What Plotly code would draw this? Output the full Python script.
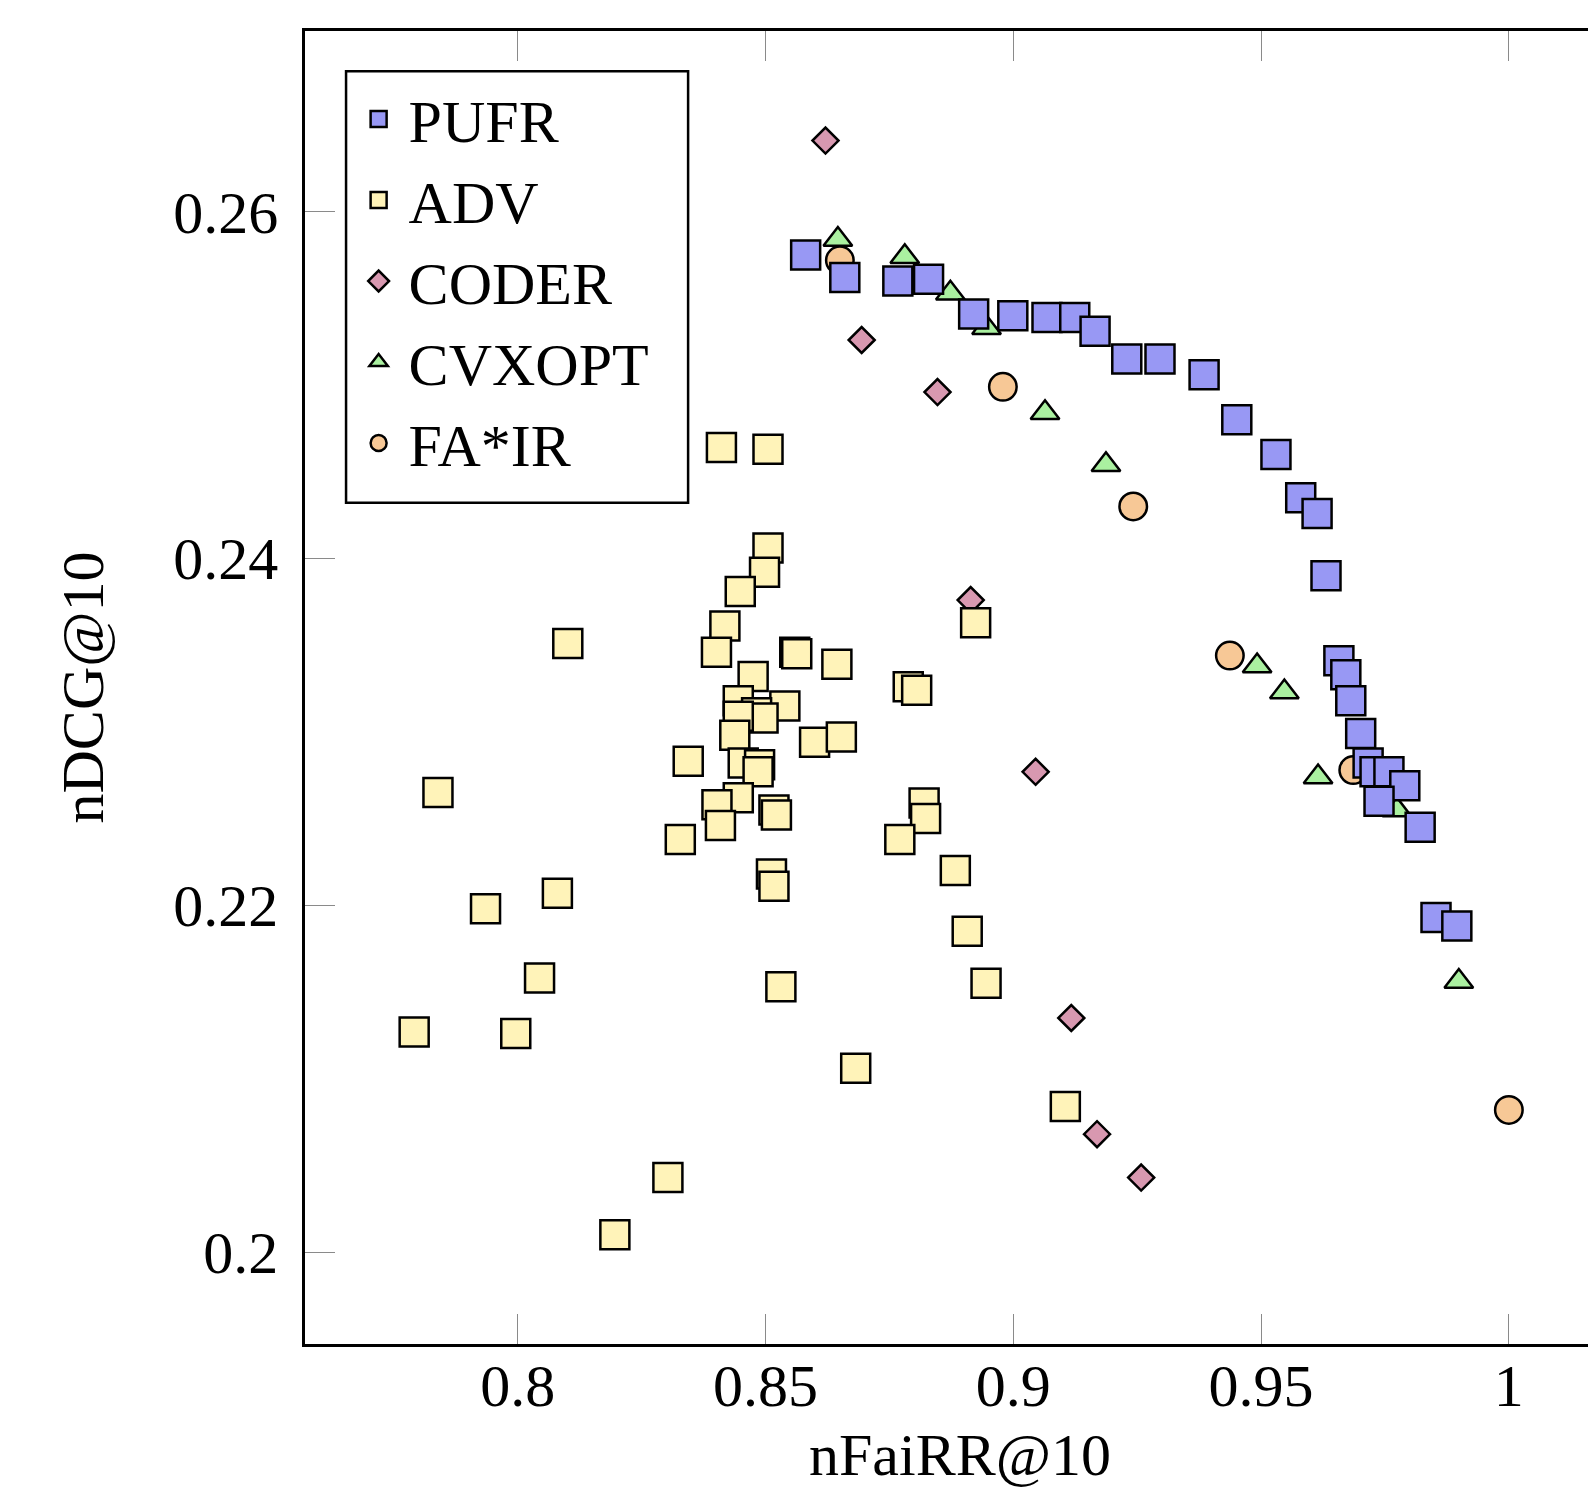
import plotly.graph_objects as go

# nFaiRR@10 (x) vs nDCG@10 (y)
pufr_x = [0.8581, 0.8660, 0.8767, 0.8829, 0.8920, 0.8999, 0.9068, 0.9124, 0.9165, 0.9229,
          0.9296, 0.9385, 0.9451, 0.9530, 0.9580, 0.9613, 0.9631, 0.9657, 0.9671, 0.9681,
          0.9701, 0.9716, 0.9730, 0.9758, 0.9790, 0.9738, 0.9821, 0.9853, 0.9895]
pufr_y = [0.2575, 0.2562, 0.2560, 0.2561, 0.2541, 0.2540, 0.2539, 0.2539, 0.2531, 0.2515,
          0.2515, 0.2506, 0.2480, 0.2460, 0.2435, 0.2426, 0.2390, 0.2341, 0.2333, 0.2318,
          0.2299, 0.2282, 0.2277, 0.2277, 0.2269, 0.2260, 0.2245, 0.2193, 0.2188]

adv_x = [0.8411, 0.8505, 0.8505, 0.8498, 0.8449, 0.8418, 0.8401, 0.8101, 0.8559, 0.8563,
         0.8644, 0.8924, 0.8475, 0.8445, 0.8539, 0.8482, 0.8495, 0.8445, 0.8438, 0.8599,
         0.8653, 0.8788, 0.8805, 0.8344, 0.8455, 0.8488, 0.8485, 0.7839, 0.8445, 0.8402,
         0.8409, 0.8517, 0.8522, 0.8820, 0.8823, 0.8328, 0.8771, 0.8883, 0.8512, 0.8517,
         0.8080, 0.7935, 0.8907, 0.8044, 0.8531, 0.8945, 0.7791, 0.7996, 0.8682, 0.9105,
         0.8303, 0.8196]
adv_y = [0.2464, 0.2463, 0.2406, 0.2392, 0.2381, 0.2361, 0.2346, 0.2351, 0.2346, 0.2345,
         0.2339, 0.2363, 0.2332, 0.2318, 0.2315, 0.2311, 0.2308, 0.2309, 0.2298, 0.2294,
         0.2297, 0.2326, 0.2324, 0.2283, 0.2282, 0.2281, 0.2277, 0.2265, 0.2262, 0.2258,
         0.2246, 0.2255, 0.2252, 0.2259, 0.2250, 0.2238, 0.2238, 0.2220, 0.2218, 0.2211,
         0.2207, 0.2198, 0.2185, 0.2158, 0.2153, 0.2155, 0.2127, 0.2126, 0.2106, 0.2084,
         0.2043, 0.2010]

coder_x = [0.8621, 0.8694, 0.8847, 0.8914, 0.9045, 0.9117, 0.9169, 0.9258]
coder_y = [0.2641, 0.2526, 0.2496, 0.2376, 0.2277, 0.2135, 0.2068, 0.2043]

cvxopt_x = [0.8646, 0.8781, 0.8873, 0.8946, 0.9064, 0.9187, 0.9492, 0.9547, 0.9615, 0.9774, 0.9899]
cvxopt_y = [0.2584, 0.2574, 0.2553, 0.2533, 0.2484, 0.2454, 0.2338, 0.2323, 0.2274, 0.2255, 0.2156]

fair_x = [0.8650, 0.8979, 0.9242, 0.9437, 0.9686, 1.0]
fair_y = [0.2572, 0.2499, 0.2430, 0.2344, 0.2278, 0.2082]

x_ticks = [0.8, 0.85, 0.9, 0.95, 1]
x_labels = ["0.8", "0.85", "0.9", "0.95", "1"]
y_ticks = [0.2, 0.22, 0.24, 0.26]
y_labels = ["0.2", "0.22", "0.24", "0.26"]

FONT = "Liberation Serif"

fig = go.Figure()

# draw order: CODER, CVXOPT, FA*IR underneath, then ADV and PUFR on top
fig.add_trace(go.Scatter(x=coder_x, y=coder_y, mode="markers", name="CODER", legendrank=3,
                         marker=dict(symbol="diamond", size=20, color="#d898b0",
                                     line=dict(color="black", width=2.5))))
fig.add_trace(go.Scatter(x=cvxopt_x, y=cvxopt_y, mode="markers", name="CVXOPT", legendrank=4,
                         marker=dict(symbol="triangle-up", size=25, color="#aaf0a0",
                                     line=dict(color="black", width=2.5))))
fig.add_trace(go.Scatter(x=fair_x, y=fair_y, mode="markers", name="FA*IR", legendrank=5,
                         marker=dict(symbol="circle", size=27.5, color="#f7c896",
                                     line=dict(color="black", width=2.5))))
fig.add_trace(go.Scatter(x=adv_x, y=adv_y, mode="markers", name="ADV", legendrank=2,
                         marker=dict(symbol="square", size=29, color="#fff3b9",
                                     line=dict(color="black", width=2.5))))
fig.add_trace(go.Scatter(x=pufr_x, y=pufr_y, mode="markers", name="PUFR", legendrank=1,
                         marker=dict(symbol="square", size=29, color="#9898f4",
                                     line=dict(color="black", width=2.5))))

axis_common = dict(
    ticks="inside", ticklen=30, tickwidth=1.2, tickcolor="#8a8a8a",
    showline=True, linecolor="black", linewidth=2.5,
    showgrid=False, zeroline=False,
    tickfont=dict(family=FONT, size=60, color="black"),
)

# the page body adds an 8px margin all round, so the figure is 16px smaller than the page
fig.update_layout(
    width=1580, height=1484,
    margin=dict(l=297, r=0, t=23, b=148),
    paper_bgcolor="white", plot_bgcolor="white",
    font=dict(family=FONT, size=60, color="black"),
    xaxis=dict(range=[0.75707, 1.01597], tickvals=x_ticks, ticktext=x_labels,
               mirror="ticks", ticklabelstandoff=-13, **axis_common),
    yaxis=dict(range=[0.1947, 0.27042], tickvals=y_ticks, ticktext=y_labels,
               mirror=False, ticklabelstandoff=12,
               title=dict(text="nDCG@10", font=dict(family=FONT, size=60), standoff=51),
               **axis_common),
    yaxis2=dict(overlaying="y", anchor="x", side="right", matches="y",
                tickvals=y_ticks, ticks="inside", ticklen=9, tickwidth=1.2,
                tickcolor="#8a8a8a", showticklabels=False, showline=False,
                showgrid=False, zeroline=False),
    legend=dict(x=0.034, y=0.9676, xanchor="left", yanchor="top",
                bgcolor="rgba(0,0,0,0)", borderwidth=0,
                font=dict(family=FONT, size=60, color="black"),
                tracegroupgap=0, itemsizing="trace", itemwidth=50),
    showlegend=True,
    # frame behind the legend, a little roomier than plotly's own border
    shapes=[dict(type="rect", xref="paper", yref="paper", x0=0.0320, x1=0.2986,
                 y0=0.6407, y1=0.9693, fillcolor="white", layer="below",
                 line=dict(color="black", width=2.5))],
    annotations=[dict(text="nFaiRR@10", xref="paper", yref="paper", x=0.5105, y=-0.1112,
                      xanchor="center", yanchor="bottom", showarrow=False,
                      font=dict(family=FONT, size=60, color="black"))],
)

fig.write_html("out.html")
